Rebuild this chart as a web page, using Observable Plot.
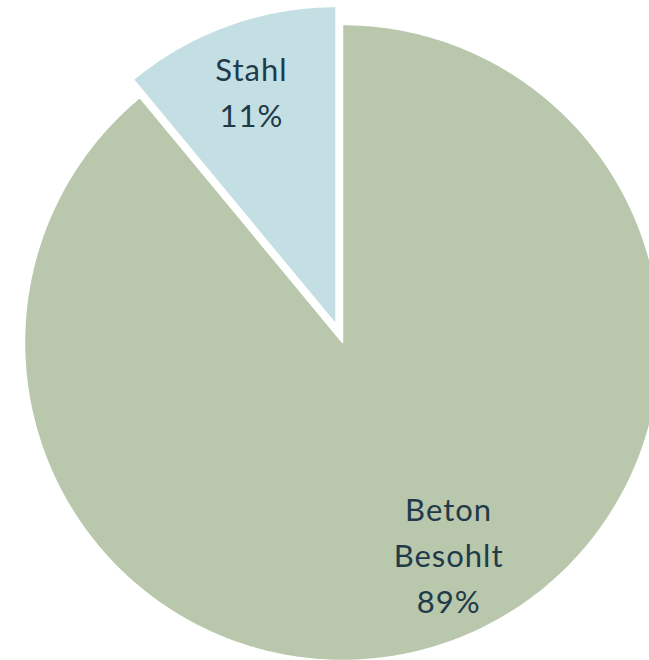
<!DOCTYPE html>
<html>
<head>
<meta charset="utf-8">
<script src="https://cdn.jsdelivr.net/npm/d3@7"></script>
<script src="https://cdn.jsdelivr.net/npm/@observablehq/plot@0.6"></script>
<style>
  html, body { margin: 0; padding: 0; background: #ffffff; }
  #chart svg { display: block; }
  #chart svg text { letter-spacing: 1px; }
</style>
</head>
<body>
<div id="chart"></div>
<script>
// Data
const categories = ["Beton\nBesohlt", "Stahl"];
const shares = [89, 11];            // percent
const sliceColors = ["#b9c7ac", "#c3dfe3"];

// Geometry (unit circle; radius 1)
const W = 649, H = 660;
const cx = 342, cy = 342, R = 318;   // pixel centre and radius used to set scale domains
const explode = [0, 0.06];           // explosion of each slice, fraction of radius
const labelRadius = [0.74, 0.785];
const labelAngleShift = [-7 * Math.PI / 180, 0];

const pie = d3.pie().sort(null).value(d => d)(shares);

const pts = [];
const labels = [];
pie.forEach((a, i) => {
  const mid = (a.startAngle + a.endAngle) / 2;
  const ox = explode[i] * Math.sin(mid);
  const oy = explode[i] * Math.cos(mid);
  const name = categories[i];
  pts.push({name, x: ox, y: oy});
  const n = Math.max(8, Math.ceil((a.endAngle - a.startAngle) / 0.01));
  for (let k = 0; k <= n; k++) {
    const t = a.startAngle + (a.endAngle - a.startAngle) * k / n;
    pts.push({name, x: ox + Math.sin(t), y: oy + Math.cos(t)});
  }
  const la = mid + labelAngleShift[i];
  labels.push({
    name,
    text: `${name}\n${shares[i]}%`,
    x: ox + labelRadius[i] * Math.sin(la),
    y: oy + labelRadius[i] * Math.cos(la)
  });
});

const chart = Plot.plot({
  width: W,
  height: H,
  margin: 0,
  x: {domain: [-cx / R, (W - cx) / R], axis: null},
  y: {domain: [-(H - cy) / R, cy / R], axis: null},
  color: {domain: categories, range: sliceColors},
  style: {background: "#ffffff", fontFamily: "Lato, 'Open Sans', sans-serif"},
  marks: [
    Plot.line(pts, {
      x: "x", y: "y", z: "name",
      fill: "name",
      stroke: "#ffffff",
      strokeWidth: 1.5,
      curve: "linear-closed"
    }),
    Plot.text(labels, {
      x: "x", y: "y", text: "text",
      fontSize: 31,
      lineHeight: 46 / 31,
      fill: "#1f3a48",
      textAnchor: "middle"
    })
  ]
});

document.getElementById("chart").appendChild(chart);
</script>
</body>
</html>
